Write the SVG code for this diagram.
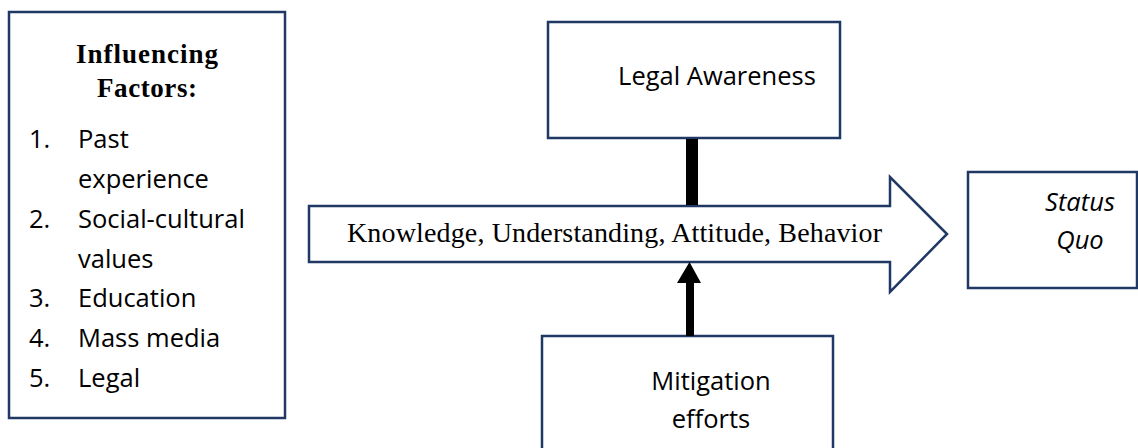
<svg xmlns="http://www.w3.org/2000/svg" width="1138" height="448" viewBox="0 0 1138 448">
<style>
.box{fill:#fff;stroke:#1f3864;stroke-width:2.5}
.sans{font-family:"Open Sans","Liberation Sans",Arial,sans-serif;font-size:25.5px;fill:#000}
.serif{font-family:"Liberation Serif","Times New Roman",serif;fill:#000}
.conn{fill:#000;stroke:none}
</style>
<rect width="1138" height="448" fill="#fff"/>
<g id="influencing-factors">
<rect class="box" x="9" y="12" width="276" height="406"/>
<text class="serif" x="76" y="63" font-size="27" font-weight="bold" textLength="142" lengthAdjust="spacing">Influencing</text>
<text class="serif" x="97" y="97" font-size="27" font-weight="bold" textLength="100" lengthAdjust="spacing">Factors:</text>
<g class="sans">
<text x="29" y="148">1.</text><text x="78" y="148">Past</text>
<text x="78" y="188">experience</text>
<text x="29" y="228">2.</text><text x="78" y="228">Social-cultural</text>
<text x="78" y="268">values</text>
<text x="29" y="307">3.</text><text x="78" y="307">Education</text>
<text x="29" y="347">4.</text><text x="78" y="347">Mass media</text>
<text x="29" y="387">5.</text><text x="78" y="387">Legal</text>
</g>
</g>
<g id="legal-awareness">
<rect class="box" x="548" y="22" width="292" height="116"/>
<text class="sans" x="717" y="85" text-anchor="middle">Legal Awareness</text>
</g>
<g id="kuab-arrow">
<polygon class="box" points="309,206 890,206 890,177 947,234 890,292 890,262 309,262"/>
<text class="serif" x="347" y="242" font-size="28" textLength="535" lengthAdjust="spacing">Knowledge, Understanding, Attitude, Behavior</text>
</g>
<g id="status-quo">
<rect class="box" x="968" y="172" width="169" height="116"/>
<text class="sans" x="1080" y="211" font-style="italic" text-anchor="middle">Status</text>
<text class="sans" x="1080" y="249" font-style="italic" text-anchor="middle">Quo</text>
</g>
<g id="mitigation-efforts">
<rect class="box" x="542" y="336" width="291" height="130"/>
<text class="sans" x="711" y="390" text-anchor="middle">Mitigation</text>
<text class="sans" x="711" y="428" text-anchor="middle">efforts</text>
</g>
<g id="connectors">
<rect class="conn" x="686" y="139" width="12" height="66"/>
<rect class="conn" x="686" y="281" width="8" height="55"/>
<polygon class="conn" points="677,283 701,283 689.5,262"/>
</g>
</svg>
